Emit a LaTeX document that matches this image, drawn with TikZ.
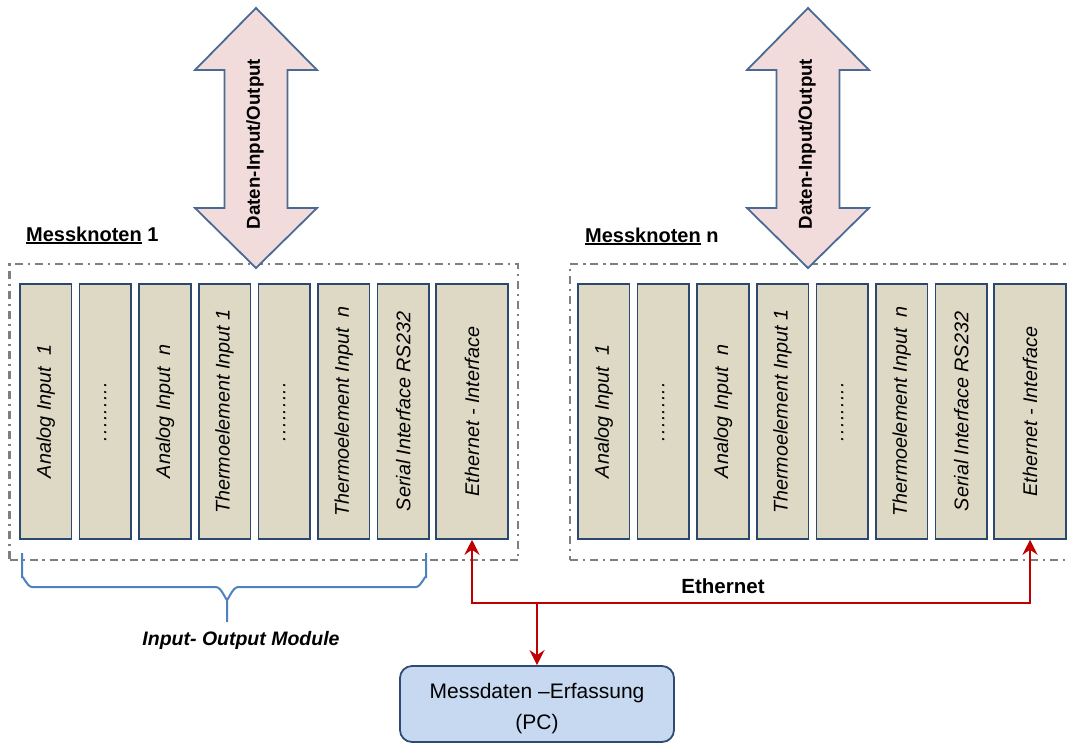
\documentclass[tikz,border=0pt]{standalone}
\usepackage{fontspec}
\setmainfont{Liberation Sans}
\usepackage{graphicx}
\usetikzlibrary{arrows.meta}
\definecolor{tanfill}{HTML}{DDD9C4}
\definecolor{modline}{HTML}{2C4770}
\definecolor{framegray}{HTML}{7F7F7F}
\definecolor{arrfill}{HTML}{F2DCDB}
\definecolor{arrline}{HTML}{4A6A93}
\definecolor{bracecol}{HTML}{4F81BD}
\definecolor{ethred}{HTML}{C00000}
\definecolor{pcfill}{HTML}{C6D9F1}
\definecolor{pcline}{HTML}{2F4B73}
\newcommand\ulmk[1]{\setbox0\hbox{#1}\rlap{\rule[-2.6pt]{\wd0}{1.5pt}}\box0\relax}
\newcommand\dotrow{.\kern1.2pt.\kern1.2pt.\kern1.2pt.\kern1.2pt.\kern1.2pt.\kern1.2pt.\kern1.2pt.\kern1.2pt.}
\begin{document}
\begin{tikzpicture}[x=1pt,y=-1pt,
  modbox/.style={draw=modline, fill=tanfill, line width=1.5pt, minimum width=51.6pt,
    minimum height=255pt, inner sep=0pt, font=\fontsize{19.8}{22}\selectfont\itshape},
  ethbox/.style={modbox, minimum width=72pt},
  framebox/.style={draw=framegray, line width=2.1pt, dash pattern=on 8pt off 4.5pt on 2.5pt off 5pt,
    minimum height=296pt, inner sep=0pt},
  bigarrow/.style={draw=arrline, fill=arrfill, line width=1.8pt, line join=miter},
  lbl/.style={font=\fontsize{20}{22}\selectfont\bfseries, inner sep=0pt},
  redline/.style={draw=ethred, line width=2.7pt, -{Stealth[length=15pt,width=15pt,inset=5pt]}},
  bracepath/.style={draw=bracecol, line width=2pt},
  pcbox/.style={draw=pcline, fill=pcfill, line width=1.8pt, rounded corners=12pt,
    minimum width=274pt, minimum height=76pt, align=center, font=\fontsize{21}{31}\selectfont}
]
\useasboundingbox (0,0) rectangle (1070,745);
\clip (0,0) rectangle (1070,745);

% frames
\node[framebox, minimum width=508.5pt] (f1) at (263.75,412) {};
\node[framebox, minimum width=506pt] (f2) at (823,412) {};

% modules node 1 and node n
\foreach \i/\t in {0/{Analog Input\ \ 1}, 1/{\dotrow}, 2/{Analog Input\ \ n},
  3/{Thermoelement Input 1}, 4/{\dotrow}, 5/{Thermoelement Input\ \ n},
  6/{Serial Interface RS232}} {
  \node[modbox] (a\i) at ({45.8+59.6*\i},411.5) {\rotatebox{90}{\t}};
  \node[modbox] (b\i) at ({603.8+59.6*\i},411.5) {\rotatebox{90}{\t}};
}
\node[ethbox] (e1) at (472,411.5) {\rotatebox{90}{Ethernet - Interface}};
\node[ethbox] (e2) at (1030,411.5) {\rotatebox{90}{Ethernet - Interface}};

% big arrows
\draw[bigarrow] (256,8) -- (317,70) -- (287.5,70) -- (287.5,208) -- (317,208) -- (256,268)
  -- (195,208) -- (224.5,208) -- (224.5,70) -- (195,70) -- cycle;
\node[lbl, rotate=90, font=\fontsize{18.7}{20}\selectfont\bfseries] (d1) at (255,144) {Daten-Input/Output};
\draw[bigarrow] (808,8) -- (869,70) -- (839.5,70) -- (839.5,208) -- (869,208) -- (808,268)
  -- (747,208) -- (776.5,208) -- (776.5,70) -- (747,70) -- cycle;
\node[lbl, rotate=90, font=\fontsize{18.7}{20}\selectfont\bfseries] (d2) at (807,144) {Daten-Input/Output};

% labels
\node[lbl, anchor=base west] (m1) at (26,241) {\ulmk{Messknoten} 1};
\node[lbl, anchor=base west] (m2) at (585,242) {\ulmk{Messknoten} n};
\node[lbl, font=\fontsize{20.5}{22}\selectfont\bfseries, anchor=base] (eth) at (723,593) {Ethernet};
\node[lbl, font=\fontsize{19.5}{22}\selectfont\bfseries\itshape, anchor=base] (iom) at (241,645) {Input- Output Module};

% brace
\draw[bracepath] (22,553) -- (22,578) to[out=90,in=180] (32,587) -- (216,587)
  to[out=0,in=-90] (227,598) -- (227,622);
\draw[bracepath] (227,598) to[out=-90,in=180] (238,587) -- (416,587)
  to[out=0,in=90] (426,578) -- (426,553);

% PC
\node[pcbox] (pc) at (537,704) {\rule{0pt}{24pt}Messdaten –Erfassung\\(PC)};

% ethernet connectors
\coordinate (j) at (537,603);
\draw[redline] (j) -| (e1.south);
\draw[redline] (j) -| (e2.south);
\draw[redline] (j) -- (pc.north);
\end{tikzpicture}
\end{document}
